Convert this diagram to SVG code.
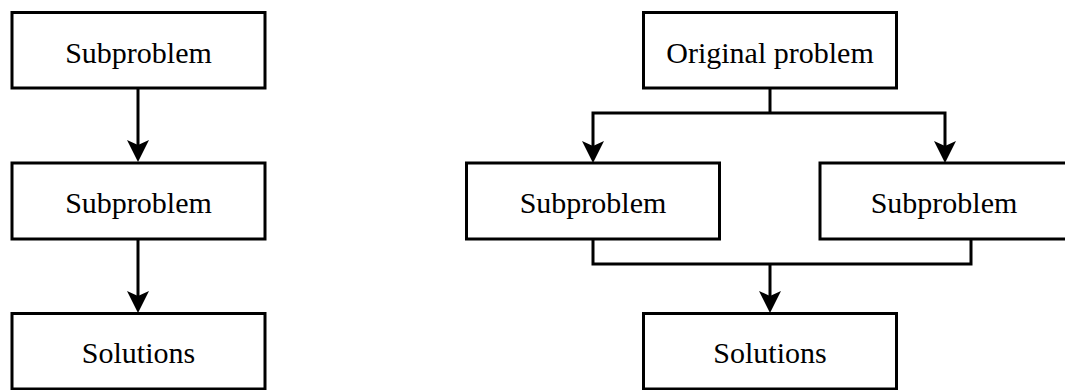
<svg xmlns="http://www.w3.org/2000/svg" width="1065" height="390" viewBox="0 0 1065 390">
<style>
.box{fill:#ffffff;stroke:#000000;stroke-width:3}
.lbl{font-family:"Liberation Serif","Times New Roman",serif;font-size:30px;fill:#000000;text-anchor:middle}
.c{fill:none;stroke:#000000;stroke-width:3;stroke-linejoin:miter}
.a{marker-end:url(#arrow)}
</style>
<defs>
<marker id="arrow" viewBox="0 0 22 22" refX="12" refY="11" markerWidth="22" markerHeight="22" markerUnits="userSpaceOnUse" orient="auto">
<path d="M0,0 L22,11 L0,22 L5,11 Z" fill="#000000"/>
</marker>
</defs>
<rect width="1065" height="390" fill="#ffffff"/>
<g id="connectors">
<path class="c a" d="M138,88 V152"/>
<path class="c a" d="M138,239 V303"/>
<path class="c" d="M770,88 V113"/>
<path class="c a" d="M770,113 H593 V153"/>
<path class="c a" d="M770,113 H945 V153"/>
<path class="c" d="M593,239 V264 H971 V239"/>
<path class="c a" d="M770,264 V303"/>
</g>
<g id="left-sub1">
<rect class="box" x="12" y="12.5" width="253" height="75.5"/>
<text class="lbl" x="138.5" y="63">Subproblem</text>
</g>
<g id="left-sub2">
<rect class="box" x="12" y="163" width="253" height="76"/>
<text class="lbl" x="138.5" y="213">Subproblem</text>
</g>
<g id="left-solutions">
<rect class="box" x="12" y="313.5" width="253" height="75.5"/>
<text class="lbl" x="138.5" y="363">Solutions</text>
</g>
<g id="original">
<rect class="box" x="643.5" y="12.5" width="253" height="75.5"/>
<text class="lbl" x="770" y="63">Original problem</text>
</g>
<g id="right-sub1">
<rect class="box" x="466.5" y="163" width="253" height="76"/>
<text class="lbl" x="593" y="213">Subproblem</text>
</g>
<g id="right-sub2">
<rect class="box" x="820" y="163" width="253" height="76"/>
<text class="lbl" x="944" y="213">Subproblem</text>
</g>
<g id="right-solutions">
<rect class="box" x="643.5" y="313.5" width="253" height="75.5"/>
<text class="lbl" x="770" y="363">Solutions</text>
</g>
</svg>
